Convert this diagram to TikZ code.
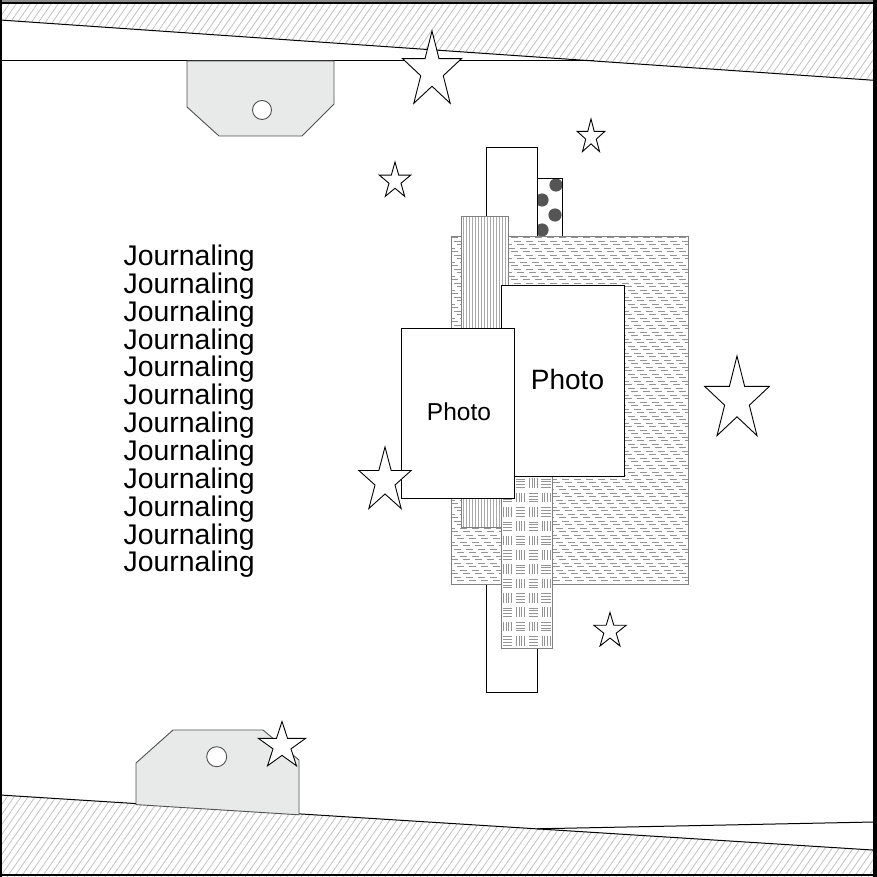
\documentclass[tikz,border=0pt]{standalone}
\usepackage{fontspec}
\setmainfont{Liberation Sans}
\definecolor{tagfill}{HTML}{E8EAEA}
\definecolor{tagline}{HTML}{505050}
\definecolor{hatchc}{HTML}{BDBDBD}
\definecolor{patgrey}{HTML}{949494}
\definecolor{edgegrey}{HTML}{808080}
\definecolor{dotgrey}{HTML}{555555}
\begin{document}
\begin{tikzpicture}[x=1pt,y=-1pt,line join=miter]
\tikzset{
  hatchline/.style={draw=hatchc,line width=0.7},
  edgeline/.style={draw=black,line width=1},
  tagsty/.style={fill=tagfill,draw=tagline,line width=0.9},
  holesty/.style={fill=white,draw=tagline,line width=0.9},
  starsty/.style={fill=white,draw=black,line width=0.9},
  photo/.style={draw=black,fill=white,line width=0.9,inner sep=0pt},
  plainstrip/.style={draw=black,fill=white,line width=0.9},
  patstrip/.style={draw=edgegrey,line width=0.9},
  patline/.style={draw=patgrey,line width=0.8},
  journ/.style={font=\fontsize{28.4}{28}\selectfont,inner sep=0pt,anchor=base west},
  phototext/.style={inner sep=0pt}
}
\useasboundingbox (0,0) rectangle (877,877);
\fill[white] (0,0) rectangle (877,877);

% ---- patterned bands (top and bottom)
\begin{scope}
  \clip (0,3) -- (877,3) -- (877,80.4) -- (0,20) -- cycle
        (0,795) -- (877,850.3) -- (877,877) -- (0,877) -- cycle;
  \foreach \i in {-700,-693,...,900} \draw[hatchline] (\i,877) -- ++(614,-877);
\end{scope}
\draw[edgeline] (0,20) -- (874,80.3);
\draw[edgeline] (0,61) -- (593.6,61);
\draw[edgeline] (0,795) -- (874,850.1);
\draw[edgeline] (537,828.8) -- (874,822);

% ---- tags
\draw[tagsty] (187,61) -- (334,61) -- (334,104) -- (302,136) -- (219,136) -- (187,107) -- cycle;
\draw[holesty] (262,110) circle (9.5);
\draw[tagsty] (136,804.6) -- (136,763) -- (173,730) -- (263,730) -- (299,760) -- (299,814.8) -- cycle;
\draw[holesty] (216.7,756.7) circle (10);

% ---- white strip
\draw[plainstrip] (486,147) rectangle (537,692);

% ---- polka dot strip
\fill[white] (537,178) rectangle (562,236);
\begin{scope}
  \clip (537,178) rectangle (562,236);
  \foreach \dx/\dy in {556/185,542/200,555/215,542/230,541/170}
    \fill[dotgrey] (\dx,\dy) circle (6.6);
\end{scope}
\draw[draw=black,line width=0.9] (537,178) rectangle (562,236);

% ---- big dashed-texture rectangle
\fill[white] (451,236) rectangle (688,584);
\begin{scope}
  \clip (451,236) rectangle (688,584);
  \foreach \k in {0,...,100} {
    \pgfmathsetmacro{\ph}{mod(1200-3*\k,12)}
    \draw[patline,dash pattern=on 7pt off 5pt,dash phase=\ph] (451,237.7+3.5*\k) -- (688,237.7+3.5*\k);
  }
\end{scope}
\draw[patstrip] (451,236) rectangle (688,584);

% ---- vertical stripe strip
\fill[white] (461,216) rectangle (508,527);
\foreach \sx in {463.5,466.5,...,506} \draw[patline,draw=patgrey!80] (\sx,216) -- (\sx,527);
\draw[patstrip] (461,216) rectangle (508,527);

% ---- basket-weave strip
\fill[white] (501,476) rectangle (552.5,648);
\foreach \r in {0,...,11} {
  \foreach \c in {0,...,3} {
    \pgfmathsetmacro{\xa}{501+\c*12.875}
    \pgfmathsetmacro{\ya}{476+\r*14.33}
    \pgfmathtruncatemacro{\bpar}{mod(\r+\c,2)}
    \ifnum\bpar=0
      \foreach \o in {2.6,5.2,7.8,10.4} \draw[patline] (\xa+\o,\ya+2.4) -- (\xa+\o,\ya+12);
    \else
      \foreach \o in {3,5.8,8.6,11.4} \draw[patline] (\xa+1.8,\ya+\o) -- (\xa+11,\ya+\o);
    \fi
  }
}
\draw[patstrip] (501,476) rectangle (552.5,648);

% ---- photos
\node[photo,minimum width=123pt,minimum height=191pt] (photoR) at (562.5,380.5) {};
\node[phototext,font=\fontsize{28}{28}\selectfont] (photoRt) at (567.5,379) {Photo};
\node[photo,minimum width=113pt,minimum height=170pt] (photoL) at (457.5,413) {};
\node[phototext,font=\fontsize{24.5}{25}\selectfont] (photoLt) at (459,411.5) {Photo};

% ---- stars
\foreach \cx/\cy/\rx/\ry in {432/71/31/40, 591/137/14.5/18, 395/181/16.5/19, 737/400/34/44,
                             385/481/27.5/34, 610/631/17/18.5, 282/746/24.7/24.5}
  \draw[starsty,shift={(\cx,\cy)},xscale=\rx,yscale=-\ry]
    (90:1) -- (126:0.382) -- (162:1) -- (198:0.382) -- (234:1) -- (270:0.382)
    -- (306:1) -- (342:0.382) -- (18:1) -- (54:0.382) -- cycle;

% ---- journaling text
\foreach \i in {0,...,11}
  \node[journ] (j\i) at (123.5,265.5+27.85*\i) {Journaling};

% ---- frame
\fill[black!45] (0,0) rectangle (877,2.2);
\draw[black,line width=1.2] (0,3) -- (877,3);
\draw[black,line width=2] (1,0) -- (1,877);
\draw[black,line width=4] (875,0) -- (875,877);
\draw[black,line width=2] (0,875) -- (877,875);
\end{tikzpicture}
\end{document}
